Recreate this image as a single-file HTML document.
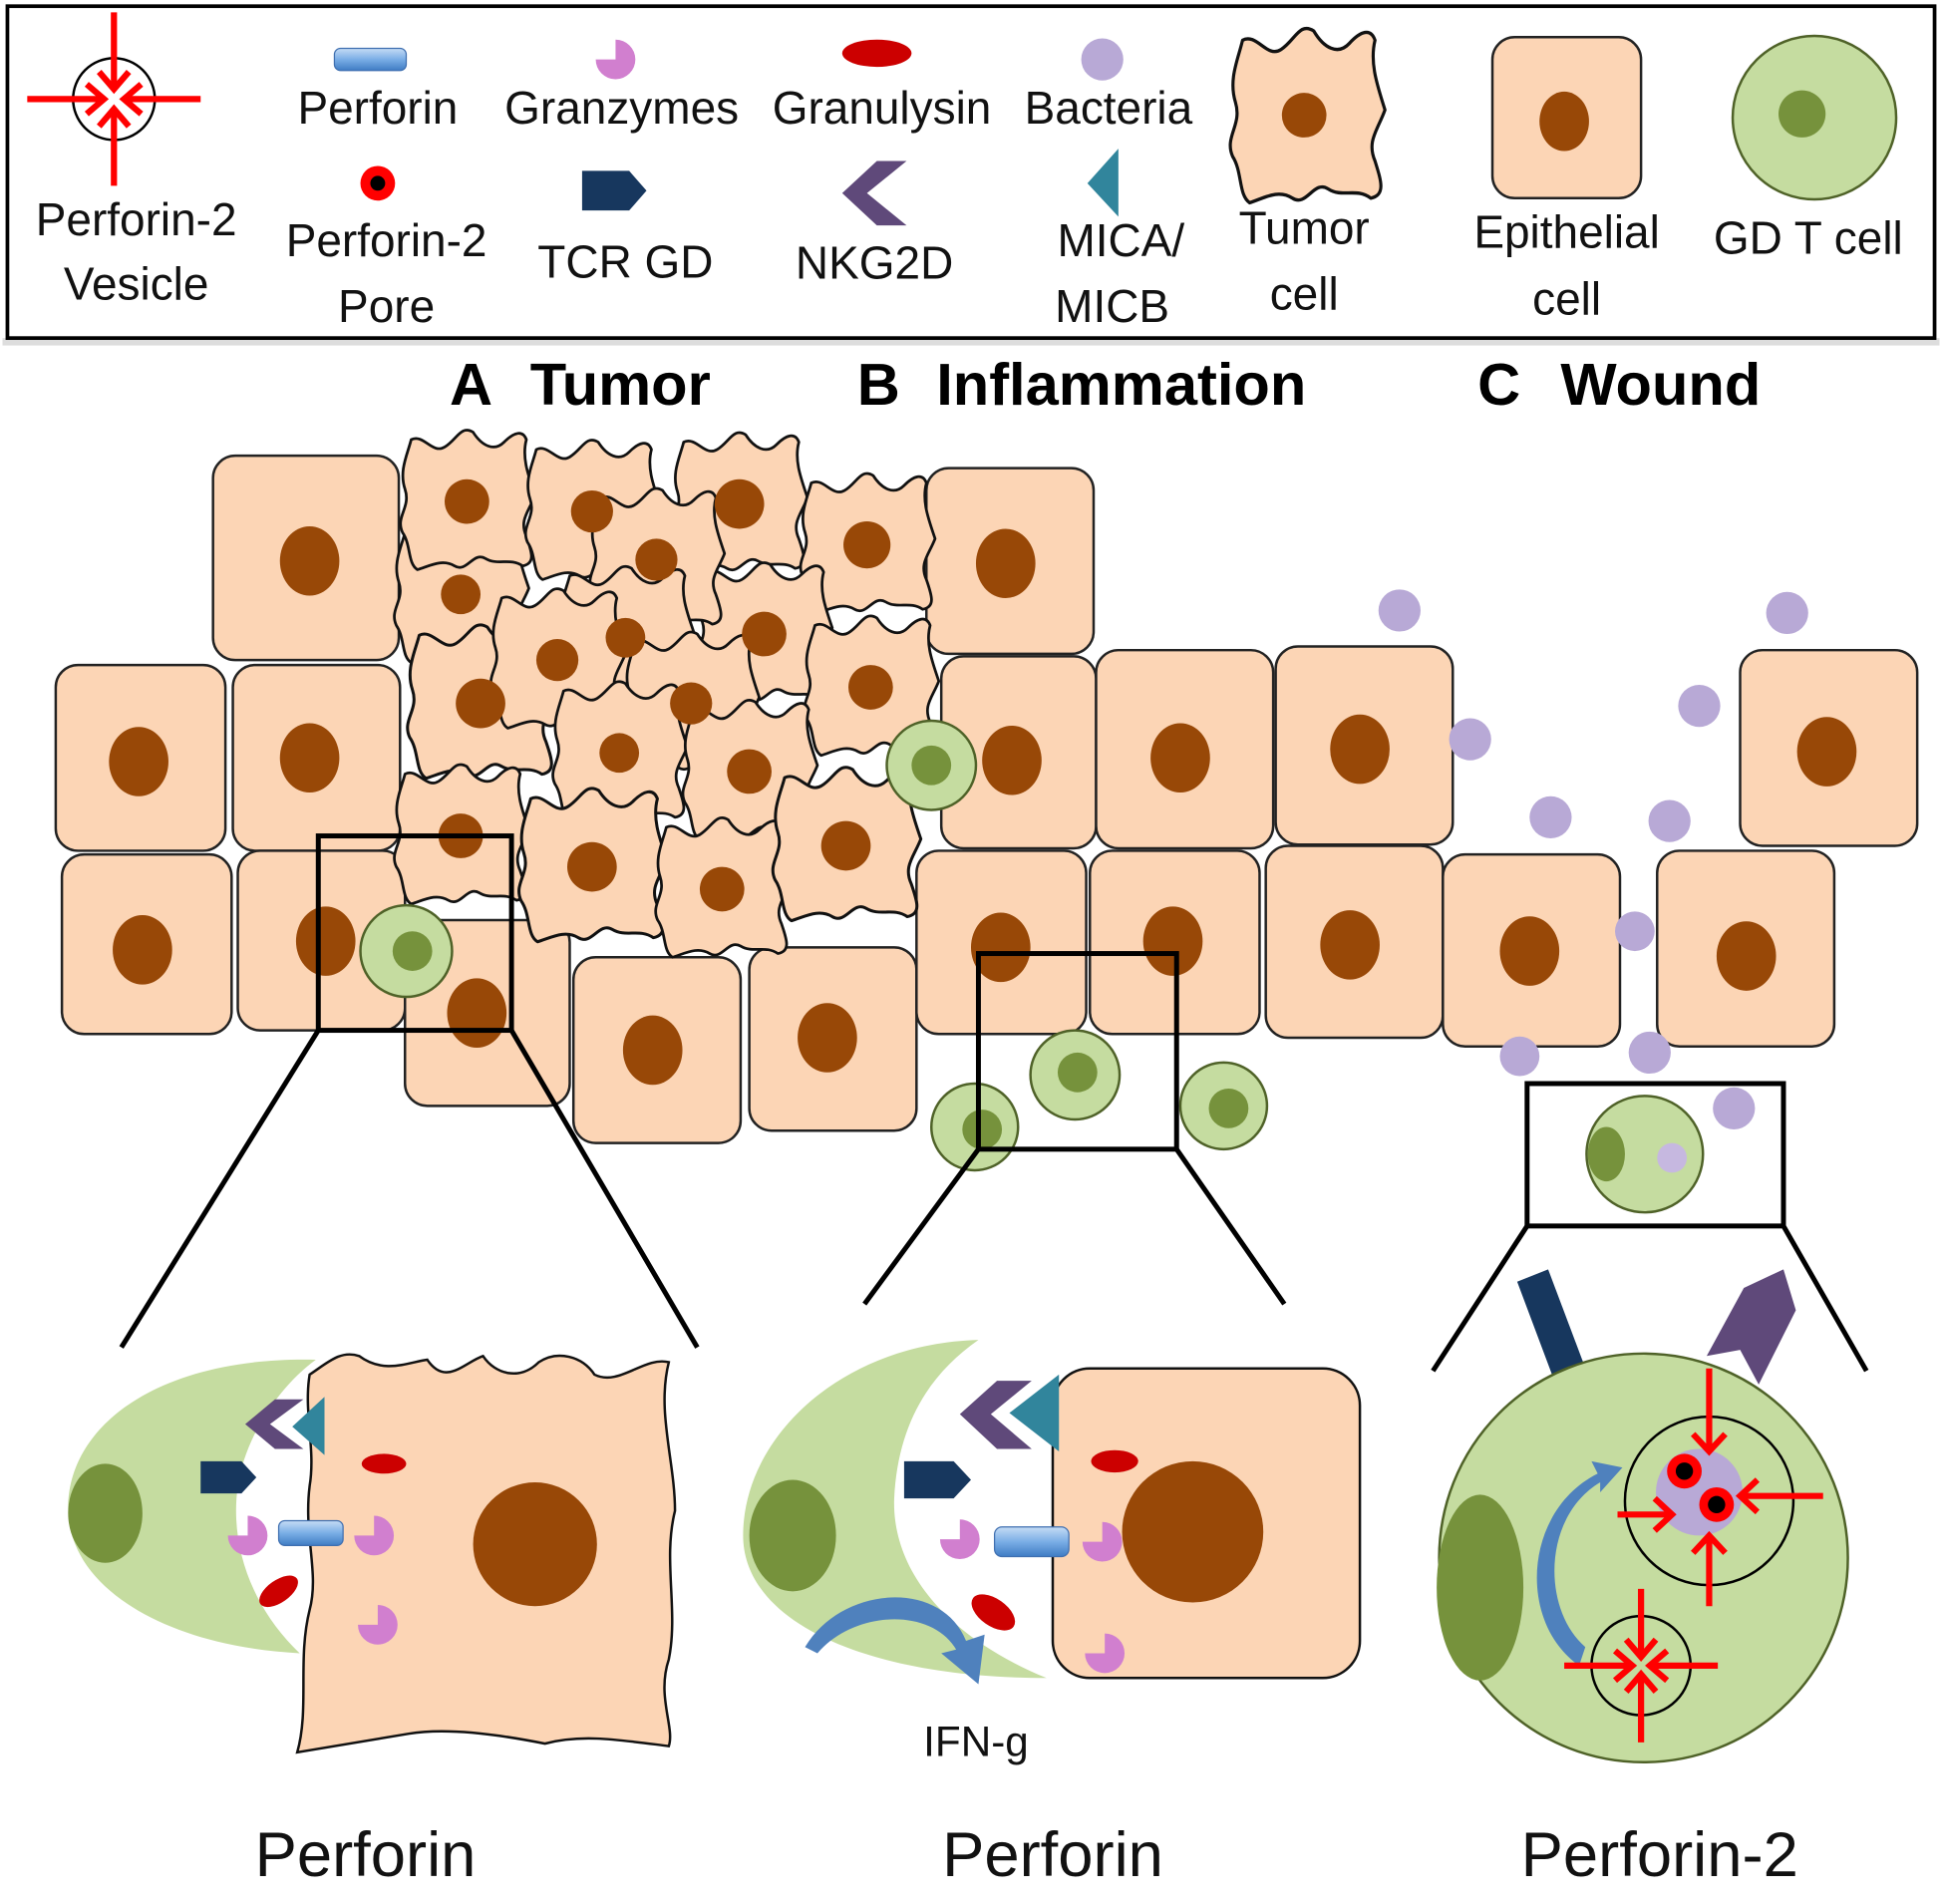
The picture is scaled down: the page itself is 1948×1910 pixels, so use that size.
<!DOCTYPE html>
<html><head><meta charset="utf-8"><style>
html,body{margin:0;padding:0;background:#fff}
svg{display:block}
text{font-family:"Liberation Sans","DejaVu Sans",sans-serif}
</style></head><body>
<svg width="1948" height="1910" viewBox="0 0 1568 1537.5" preserveAspectRatio="none" xmlns="http://www.w3.org/2000/svg">
<defs>
<linearGradient id="pf" x1="0" y1="0" x2="0" y2="1"><stop offset="0" stop-color="#c6dcf5"/><stop offset="0.5" stop-color="#7aaee6"/><stop offset="1" stop-color="#3f7cc4"/></linearGradient>
<path id="tum" d="M-45,-50 C-35,-55 -28,-38 -18,-44 C-8,-50 -5,-62 5,-56 C12,-45 22,-40 30,-48 C38,-56 45,-58 48,-50 C44,-35 50,-20 55,-5 C50,8 42,15 48,28 C52,40 56,50 45,52 C35,45 25,52 15,46 C5,40 0,58 -10,52 C-20,46 -30,52 -40,55 C-48,50 -45,35 -52,25 C-58,12 -45,5 -50,-10 C-55,-25 -48,-38 -45,-50 Z" fill="#fcd5b5" stroke="#111" stroke-width="2.2" stroke-linejoin="round"/>
<g id="arr"><line x1="0" y1="-70" x2="0" y2="-8" stroke="#f00" stroke-width="5"/><polyline points="-12,-22 0,-8 12,-22" fill="none" stroke="#f00" stroke-width="5"/></g>
<g id="arrs"><line x1="0" y1="-62" x2="0" y2="-7" stroke="#f00" stroke-width="5"/><polyline points="-12,-21 0,-7 12,-21" fill="none" stroke="#f00" stroke-width="5"/></g>
<g id="gran"><path d="M0,0 L0,-16 A16,16 0 1 1 -16,0 Z" fill="#d17fcf"/></g>
</defs>

<!-- legend -->
<rect x="2" y="273" width="1564" height="6" fill="#ddd"/>
<rect x="6" y="5" width="1556" height="268" fill="#fff" stroke="#000" stroke-width="3"/>
<circle cx="92" cy="80" r="33" fill="#fff" stroke="#000" stroke-width="2"/>
<g transform="translate(92,80)"><use href="#arr"/><use href="#arr" transform="rotate(90)"/><use href="#arr" transform="rotate(180)"/><use href="#arr" transform="rotate(270)"/></g>
<g font-size="37" fill="#111" text-anchor="middle">
<text x="110" y="190">Perforin-2</text><text x="110" y="242">Vesicle</text>
<text x="305" y="100">Perforin</text>
<text x="502" y="100">Granzymes</text>
<text x="712" y="100">Granulysin</text>
<text x="895" y="100">Bacteria</text>
<text x="312" y="207">Perforin-2</text><text x="312" y="260">Pore</text>
<text x="505" y="224">TCR GD</text>
<text x="706" y="225">NKG2D</text>
<text x="905" y="207">MICA/</text><text x="898" y="260">MICB</text>
<text x="1053" y="197">Tumor</text><text x="1053" y="250">cell</text>
<text x="1265" y="200">Epithelial</text><text x="1265" y="254">cell</text>
<text x="1460" y="205">GD T cell</text>
</g>
<rect x="270" y="39" width="58" height="18" rx="5" fill="url(#pf)" stroke="#3f6fb0" stroke-width="1"/>
<use href="#gran" x="497" y="48"/>
<ellipse cx="708" cy="43" rx="28" ry="11" fill="#cc0000"/>
<circle cx="890" cy="48" r="17" fill="#b8a9d6"/>
<use href="#tum" transform="translate(1055,95) scale(1.15,1.25)"/>
<circle cx="1053" cy="93" r="18" fill="#984807"/>
<rect x="1205" y="30" width="120" height="130" rx="18" fill="#fcd5b5" stroke="#222" stroke-width="2"/>
<ellipse cx="1263" cy="98" rx="20" ry="24" fill="#984807"/>
<circle cx="1465" cy="95" r="66" fill="#c5dca0" stroke="#4f6228" stroke-width="2"/>
<circle cx="1455" cy="92" r="19" fill="#76923c"/>
<circle cx="305" cy="148" r="14" fill="#f00"/><circle cx="305" cy="148" r="6" fill="#000"/>
<path d="M470,138 L508,138 L522,154 L508,170 L470,170 Z" fill="#17375e"/>
<path d="M732,130 L700,156 L732,182 L708,182 L680,156 L708,130 Z" fill="#5f497a"/>
<path d="M903,120 L903,175 L878,148 Z" fill="#31859c"/>

<!-- headers -->
<g font-size="48" font-weight="bold" fill="#000">
<text x="363" y="327">A</text><text x="428" y="327">Tumor</text>
<text x="692" y="327">B</text><text x="756" y="327">Inflammation</text>
<text x="1193" y="327">C</text><text x="1260" y="327">Wound</text>
</g>

<!-- epithelial cells -->
<g fill="#fcd5b5" stroke="#222" stroke-width="2">
<rect x="172" y="368" width="150" height="165" rx="18"/>
<rect x="748" y="378" width="135" height="150" rx="18"/>
<rect x="45" y="537" width="137" height="150" rx="18"/>
<rect x="188" y="537" width="135" height="150" rx="18"/>
<rect x="760" y="530" width="125" height="155" rx="18"/>
<rect x="885" y="525" width="143" height="160" rx="18"/>
<rect x="1030" y="522" width="143" height="160" rx="18"/>
<rect x="1405" y="525" width="143" height="158" rx="18"/>
<rect x="50" y="690" width="137" height="145" rx="18"/>
<rect x="192" y="687" width="135" height="145" rx="18"/>
<rect x="327" y="743" width="133" height="150" rx="18"/>
<rect x="463" y="773" width="135" height="150" rx="18"/>
<rect x="605" y="765" width="135" height="148" rx="18"/>
<rect x="740" y="687" width="137" height="148" rx="18"/>
<rect x="880" y="687" width="137" height="148" rx="18"/>
<rect x="1022" y="683" width="143" height="155" rx="18"/>
<rect x="1165" y="690" width="143" height="155" rx="18"/>
<rect x="1338" y="687" width="143" height="158" rx="18"/>
</g>
<g fill="#984807">
<ellipse cx="250" cy="453" rx="24" ry="28"/><ellipse cx="812" cy="455" rx="24" ry="28"/>
<ellipse cx="112" cy="615" rx="24" ry="28"/><ellipse cx="250" cy="612" rx="24" ry="28"/>
<ellipse cx="817" cy="614" rx="24" ry="28"/><ellipse cx="953" cy="612" rx="24" ry="28"/>
<ellipse cx="1098" cy="605" rx="24" ry="28"/><ellipse cx="1475" cy="607" rx="24" ry="28"/>
<ellipse cx="115" cy="767" rx="24" ry="28"/><ellipse cx="263" cy="760" rx="24" ry="28"/>
<ellipse cx="385" cy="818" rx="24" ry="28"/><ellipse cx="527" cy="848" rx="24" ry="28"/>
<ellipse cx="668" cy="838" rx="24" ry="28"/><ellipse cx="808" cy="765" rx="24" ry="28"/>
<ellipse cx="947" cy="760" rx="24" ry="28"/><ellipse cx="1090" cy="763" rx="24" ry="28"/>
<ellipse cx="1235" cy="768" rx="24" ry="28"/><ellipse cx="1410" cy="772" rx="24" ry="28"/>
</g>

<!-- tumor cells -->
<g>
<use href="#tum" transform="translate(372,480)"/>
<use href="#tum" transform="translate(377,405)"/>
<use href="#tum" transform="translate(478,413)"/>
<use href="#tum" transform="translate(597,407)"/>
<use href="#tum" transform="translate(700,440)"/>
<use href="#tum" transform="translate(388,568) scale(1.1)"/>
<use href="#tum" transform="translate(617,512)"/>
<use href="#tum" transform="translate(703,555)"/>
<use href="#tum" transform="translate(530,452)"/>
<use href="#tum" transform="translate(505,515)"/>
<use href="#tum" transform="translate(450,533)"/>
<use href="#tum" transform="translate(558,568)"/>
<use href="#tum" transform="translate(500,608)"/>
<use href="#tum" transform="translate(605,623)"/>
<use href="#tum" transform="translate(372,675)"/>
<use href="#tum" transform="translate(478,700) scale(1.1)"/>
<use href="#tum" transform="translate(583,718)"/>
<use href="#tum" transform="translate(683,683) scale(1.1)"/>
</g>
<g fill="#984807">
<circle cx="377" cy="405" r="18"/><circle cx="478" cy="413" r="17"/><circle cx="597" cy="407" r="20"/>
<circle cx="700" cy="440" r="19"/><circle cx="530" cy="452" r="17"/><circle cx="372" cy="480" r="16"/>
<circle cx="388" cy="568" r="20"/><circle cx="450" cy="533" r="17"/><circle cx="505" cy="515" r="16"/>
<circle cx="617" cy="512" r="18"/><circle cx="703" cy="555" r="18"/><circle cx="558" cy="568" r="17"/>
<circle cx="500" cy="608" r="16"/><circle cx="605" cy="623" r="18"/><circle cx="372" cy="675" r="18"/>
<circle cx="478" cy="700" r="20"/><circle cx="583" cy="718" r="18"/><circle cx="683" cy="683" r="20"/>
</g>

<!-- GD T cells -->
<g fill="#c5dca0" stroke="#4f6228" stroke-width="2">
<circle cx="752" cy="618" r="36"/><circle cx="328" cy="768" r="37"/>
<circle cx="868" cy="868" r="36"/><circle cx="787" cy="910" r="35"/><circle cx="988" cy="893" r="35"/>
<circle cx="1328" cy="932" r="47"/>
</g>
<g fill="#76923c">
<circle cx="752" cy="618" r="16"/><circle cx="333" cy="768" r="16"/>
<circle cx="870" cy="866" r="16"/><circle cx="793" cy="912" r="16"/><circle cx="992" cy="895" r="16"/>
<ellipse cx="1297" cy="932" rx="15" ry="22"/>
</g>
<circle cx="1350" cy="935" r="12" fill="#c6b8e0"/>

<!-- bacteria -->
<g fill="#b8a9d6">
<circle cx="1130" cy="493" r="17"/><circle cx="1443" cy="495" r="17"/><circle cx="1187" cy="597" r="17"/>
<circle cx="1372" cy="570" r="17"/><circle cx="1252" cy="660" r="17"/><circle cx="1348" cy="663" r="17"/>
<circle cx="1320" cy="752" r="16"/><circle cx="1227" cy="853" r="16"/><circle cx="1332" cy="850" r="17"/>
<circle cx="1400" cy="895" r="17"/>
</g>

<!-- zoom boxes -->
<g fill="none" stroke="#000" stroke-width="4">
<rect x="257" y="675" width="156" height="157"/>
<line x1="257" y1="832" x2="98" y2="1088"/><line x1="413" y1="832" x2="563" y2="1088"/>
<rect x="790" y="770" width="160" height="158"/>
<line x1="790" y1="928" x2="698" y2="1053"/><line x1="950" y1="928" x2="1037" y2="1053"/>
<rect x="1233" y="875" width="207" height="115"/>
<line x1="1233" y1="990" x2="1157" y2="1107"/><line x1="1440" y1="990" x2="1507" y2="1107"/>
</g>

<!-- Bottom A -->
<path d="M255,1098 C130,1095 55,1150 55,1218 C55,1285 140,1330 242,1335 C205,1300 185,1250 192,1200 C198,1160 225,1120 255,1098 Z" fill="#c5dca0"/>
<ellipse cx="85" cy="1222" rx="30" ry="40" fill="#76923c"/>
<path d="M250,1110 C265,1100 275,1090 290,1095 C310,1110 330,1100 345,1098 C360,1120 375,1100 390,1095 C400,1110 420,1115 435,1100 C450,1090 470,1095 480,1110 C500,1120 520,1095 540,1100 C530,1140 545,1180 545,1220 C535,1260 548,1300 540,1340 C530,1370 545,1395 540,1410 C500,1405 470,1400 440,1408 C400,1400 360,1395 330,1400 C300,1405 270,1410 240,1415 C250,1380 240,1340 250,1300 C258,1270 245,1240 250,1200 C255,1170 245,1140 250,1110 Z" fill="#fcd5b5" stroke="#111" stroke-width="2"/>
<circle cx="432" cy="1247" r="50" fill="#984807"/>
<path d="M245,1130 L218,1150 L245,1170 L222,1170 L198,1150 L222,1130 Z" fill="#5f497a"/>
<path d="M262,1128 L262,1175 L236,1152 Z" fill="#31859c"/>
<path d="M162,1180 L195,1180 L207,1193 L195,1206 L162,1206 Z" fill="#17375e"/>
<use href="#gran" x="200" y="1240"/><use href="#gran" x="302" y="1240"/><use href="#gran" x="305" y="1312"/>
<rect x="225" y="1228" width="52" height="20" rx="5" fill="url(#pf)" stroke="#3f6fb0"/>
<ellipse cx="310" cy="1182" rx="18" ry="8" fill="#cc0000"/>
<ellipse cx="225" cy="1285" rx="18" ry="9" fill="#cc0000" transform="rotate(-35 225 1285)"/>

<!-- Bottom B -->
<path d="M790,1082 C680,1085 600,1160 600,1240 C600,1310 700,1355 845,1355 C760,1320 720,1265 722,1210 C725,1150 750,1110 790,1082 Z" fill="#c5dca0"/>
<ellipse cx="640" cy="1240" rx="35" ry="45" fill="#76923c"/>
<rect x="850" y="1105" width="248" height="250" rx="30" fill="#fcd5b5" stroke="#111" stroke-width="2"/>
<circle cx="963" cy="1237" r="57" fill="#984807"/>
<path d="M833,1115 L800,1142 L833,1170 L805,1170 L775,1142 L805,1115 Z" fill="#5f497a"/>
<path d="M855,1110 L855,1172 L815,1141 Z" fill="#31859c"/>
<path d="M730,1180 L770,1180 L784,1195 L770,1210 L730,1210 Z" fill="#17375e"/>
<use href="#gran" x="775" y="1243"/><use href="#gran" x="890" y="1245"/><use href="#gran" x="892" y="1335"/>
<rect x="803" y="1233" width="60" height="24" rx="6" fill="url(#pf)" stroke="#3f6fb0"/>
<ellipse cx="900" cy="1180" rx="19" ry="9" fill="#cc0000"/>
<ellipse cx="802" cy="1302" rx="20" ry="11" fill="#cc0000" transform="rotate(35 802 1302)"/>
<path d="M650,1330 C680,1280 760,1275 780,1325 L795,1320 L790,1360 L760,1335 L772,1332 C752,1298 690,1300 660,1335 Z" fill="#4f81bd"/>
<text x="788" y="1418" font-size="34" fill="#111" text-anchor="middle">IFN-g</text>

<!-- Bottom C -->
<path d="M1225,1035 L1250,1025 L1282,1110 L1255,1115 Z" fill="#17375e"/>
<path d="M1378,1095 L1408,1040 L1440,1025 L1450,1058 L1420,1118 L1405,1090 Z" fill="#5f497a"/>
<circle cx="1327" cy="1258" r="165" fill="#c5dca0" stroke="#4f6228" stroke-width="2"/>
<ellipse cx="1195" cy="1282" rx="35" ry="75" fill="#76923c"/>
<path d="M1275,1345 C1225,1310 1230,1220 1290,1190 L1285,1180 L1310,1185 L1292,1205 L1292,1197 C1245,1225 1245,1300 1280,1330 Z" fill="#4f81bd"/>
<circle cx="1380" cy="1212" r="68" fill="none" stroke="#000" stroke-width="2"/>
<circle cx="1372" cy="1205" r="35" fill="#b8a9d6"/>
<circle cx="1360" cy="1188" r="14" fill="#f00"/><circle cx="1360" cy="1188" r="7" fill="#000"/>
<circle cx="1386" cy="1215" r="14" fill="#f00"/><circle cx="1386" cy="1215" r="7" fill="#000"/>
<g stroke="#f00" stroke-width="5" fill="none">
<line x1="1380" y1="1105" x2="1380" y2="1172"/><polyline points="1367,1158 1380,1172 1393,1158"/>
<line x1="1380" y1="1297" x2="1380" y2="1240"/><polyline points="1367,1254 1380,1240 1393,1254"/>
<line x1="1306" y1="1223" x2="1350" y2="1223"/><polyline points="1336,1210 1350,1223 1336,1236"/>
<line x1="1472" y1="1208" x2="1405" y2="1208"/><polyline points="1419,1195 1405,1208 1419,1221"/>
</g>
<circle cx="1325" cy="1345" r="40" fill="none" stroke="#000" stroke-width="2"/>
<g transform="translate(1325,1345)"><use href="#arrs"/><use href="#arrs" transform="rotate(90)"/><use href="#arrs" transform="rotate(180)"/><use href="#arrs" transform="rotate(270)"/></g>

<!-- bottom labels -->
<g font-size="51" fill="#111" text-anchor="middle">
<text x="295" y="1515">Perforin</text>
<text x="850" y="1515">Perforin</text>
<text x="1340" y="1515">Perforin-2</text>
</g>
</svg>
</body></html>
